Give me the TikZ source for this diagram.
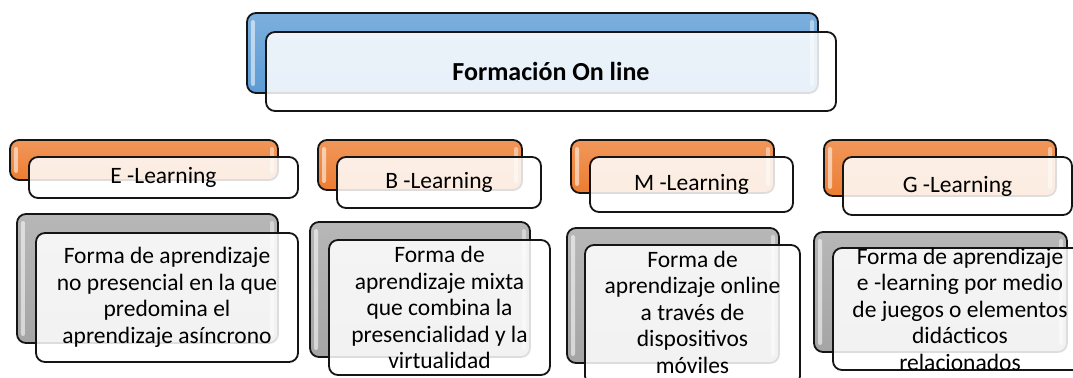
\documentclass[tikz,border=0pt]{standalone}
\usepackage{fontspec}
\setmainfont{Carlito}
\usetikzlibrary{backgrounds}
\definecolor{cblue}{HTML}{5B9BD5}
\definecolor{corange}{HTML}{ED7D31}
\definecolor{cgray}{HTML}{A5A5A5}
\definecolor{cedge}{HTML}{151515}
\tikzset{
  backbox/.style={draw=cedge, line width=1.8bp, rounded corners=9bp, inner sep=0pt, outer sep=0pt,
    top color=#1!80!white, bottom color=#1,
    path picture={
      \fill[white,opacity=0.55,rounded corners=2bp]
        ([xshift=4bp,yshift=-7bp]path picture bounding box.north west) rectangle
        ([xshift=8bp,yshift=7bp]path picture bounding box.south west);
      \fill[white,opacity=0.45,rounded corners=2bp]
        ([xshift=-4bp,yshift=-7bp]path picture bounding box.north east) rectangle
        ([xshift=-8bp,yshift=7bp]path picture bounding box.south east);
    }},
  frontbox/.style={draw=cedge, line width=1.8bp, rounded corners=9bp, fill=white,
    fill opacity=0.86, text opacity=1, inner sep=0pt, outer sep=0pt},
  titletext/.style={font=\bfseries\fontsize{26bp}{30bp}\selectfont, text=black},
  labeltext/.style={font=\fontsize{23.5bp}{27bp}\selectfont, text=black},
  bodytext/.style={font=\fontsize{23.5bp}{26.5bp}\selectfont, align=center, inner sep=0pt, text=black},
  oline/.style={draw=corange, line width=2.8bp},
  gline/.style={draw=cgray, line width=2.4bp}
}
\begin{document}
\begin{tikzpicture}[x=1bp,y=-1bp]
\clip (0,0) rectangle (1073,377);
\fill[white] (0,0) rectangle (1073,377);
\coordinate (bus) at (0,125);
% top
\node[backbox=cblue, minimum width=571bp, minimum height=80bp] (tB) at (532.5,53) {};
\node[frontbox, titletext, minimum width=570bp, minimum height=79bp] (tF) at (551,71.5) {Formación On line};
% E
\node[backbox=corange, minimum width=268bp, minimum height=40bp] (eO) at (144,160) {};
\node[frontbox, labeltext, minimum width=269bp, minimum height=41bp] (eF) at (163.5,177.5) {E -Learning};
\node[backbox=cgray, minimum width=261bp, minimum height=129bp] (eG) at (147.5,278.5) {};
\node[frontbox, minimum width=262bp, minimum height=129bp] (eD) at (167,297.5) {};
\node[bodytext] (eT) at (eD.center) {Forma de aprendizaje\\no presencial en la que\\predomina el\\aprendizaje asíncrono};
% B
\node[backbox=corange, minimum width=204bp, minimum height=50bp] (bO) at (420,165) {};
\node[frontbox, labeltext, minimum width=204bp, minimum height=51bp] (bF) at (439,182.5) {B -Learning};
\node[backbox=cgray, minimum width=220bp, minimum height=135bp] (bG) at (420,289.5) {};
\node[frontbox, minimum width=221bp, minimum height=135bp] (bD) at (439.5,307.5) {};
\node[bodytext] (bT) at (bD.center) {Forma de\\aprendizaje mixta\\que combina la\\presencialidad y la\\virtualidad};
% M
\node[backbox=corange, minimum width=203bp, minimum height=53bp] (mO) at (672.5,166.5) {};
\node[frontbox, labeltext, minimum width=203bp, minimum height=55bp] (mF) at (691.5,184.5) {M -Learning};
\node[backbox=cgray, minimum width=212bp, minimum height=135bp] (mG) at (673,295.5) {};
\node[frontbox, minimum width=215bp, minimum height=140bp] (mD) at (692.5,315) {};
\node[bodytext] (mT) at (692.5,312) {Forma de\\aprendizaje online\\a través de\\dispositivos\\móviles};
% G
\node[backbox=corange, minimum width=232bp, minimum height=56bp] (gO) at (940,168) {};
\node[frontbox, labeltext, minimum width=229bp, minimum height=58bp] (gF) at (957.5,186) {G -Learning};
\node[backbox=cgray, minimum width=253bp, minimum height=120bp] (gG) at (940.5,292) {};
\node[frontbox, minimum width=254bp, minimum height=122bp] (gD) at (960,309) {};
\node[bodytext] (gT) at (gD.center) {Forma de aprendizaje\\e -learning por medio\\de juegos o elementos\\didácticos\\relacionados};
% connectors
\begin{pgfonlayer}{background}
\draw[oline] (tB.south) -- (tB.south |- bus);
\draw[oline] (eO.north) -- (eO.north |- bus) -- (gO.north |- bus) -- (gO.north);
\draw[oline] (bO.north) -- (bO.north |- bus);
\draw[oline] (mO.north) -- (mO.north |- bus);
\draw[gline] (eO.south) -- (eO.south |- eG.north);
\draw[gline] (bO.south) -- (bO.south |- bG.north);
\draw[gline] (mO.south) -- (mO.south |- mG.north);
\draw[gline] (gO.south) -- (gO.south |- gG.north);
\end{pgfonlayer}
\end{tikzpicture}
\end{document}
